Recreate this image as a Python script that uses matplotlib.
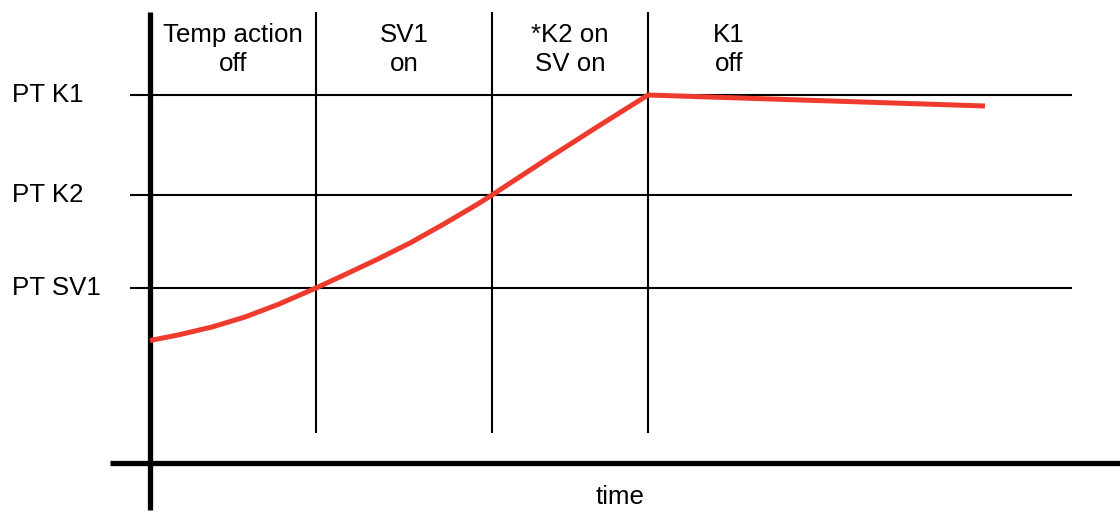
import matplotlib
matplotlib.use("Agg")
import matplotlib.pyplot as plt

# ---- data ----
level_names = ["PT K1", "PT K2", "PT SV1"]
level_values = [36.8, 26.8, 17.5]

phase_bounds = [16.6, 34.2, 49.8]
phase_labels = ["Temp action\noff", "SV1\non", "*K2 on\nSV on", "K1\noff"]

curve_t = [0, 2.8, 6.2, 9.5, 12.8, 16.6, 19.3, 22.7, 26.0, 29.3, 32.7, 34.2,
           39.7, 44.7, 49.8, 83.5]
curve_T = [12.25, 12.8, 13.6, 14.6, 15.85, 17.5, 18.75, 20.35, 22.0, 23.85, 25.85, 26.8,
           30.4, 33.6, 36.8, 35.7]

x_label = "time"

# ---- layout ----
FONT = "Liberation Sans"
FS = 18.6
RED = "#EE3B2D"

fig = plt.figure(figsize=(11.2, 5.14), dpi=100)
ax = fig.add_axes([0, 0, 1, 1])
ax.set_xlim(-15, 97)
ax.set_ylim(-5.1, 46.3)
ax.axis("off")

# thin horizontal level lines
for v in level_values:
    ax.plot([-2, 92.2], [v, v], color="black", lw=1.5, solid_capstyle="butt", zorder=1)

# thin vertical phase dividers
for b in phase_bounds:
    ax.plot([b, b], [3.0, 45.1], color="black", lw=1.5, solid_capstyle="butt", zorder=1)

# thick axes
ax.plot([0, 0], [-4.7, 45.1], color="black", lw=3.8, solid_capstyle="butt", zorder=3)
ax.plot([-4, 97], [0, 0], color="black", lw=3.8, solid_capstyle="butt", zorder=3)

# temperature curve
ax.plot(curve_t, curve_T, color=RED, lw=3.6, solid_capstyle="butt",
        solid_joinstyle="round", antialiased=True, zorder=4)

# level labels
for name, v in zip(level_names, level_values):
    ax.text(-13.8, v, name, ha="left", va="center", fontsize=FS, family=FONT)

# phase labels
label_x = [8.3, 25.4, 42.0, 57.9]
for lx, lab in zip(label_x, phase_labels):
    ax.text(lx, 41.35, lab, ha="center", va="center", fontsize=FS, family=FONT,
            linespacing=1.3)

ax.text(47.0, -3.4, x_label, ha="center", va="center", fontsize=FS, family=FONT)

fig.savefig("out.png", dpi=100)
